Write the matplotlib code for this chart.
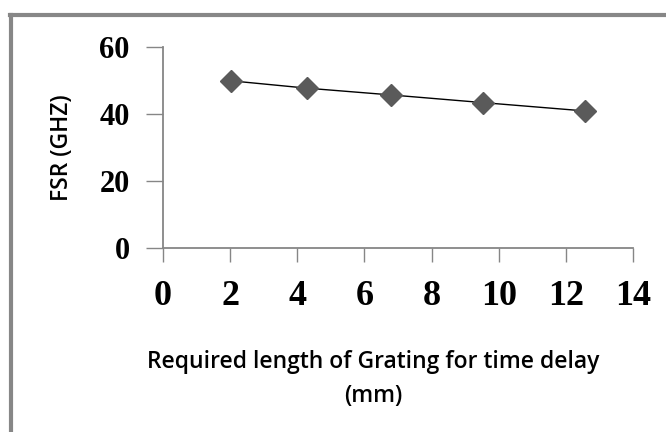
import matplotlib.pyplot as plt
from matplotlib.lines import Line2D

gratingLength = [2.03, 4.3, 6.78, 9.53, 12.58]
fsr = [49.9, 47.7, 45.7, 43.4, 40.9]
xTicks = [0, 2, 4, 6, 8, 10, 12, 14]
yTicks = [0, 20, 40, 60]

axisGray = '#868686'

fig = plt.figure(figsize=(6.66, 4.32), dpi=100)
ax = fig.add_axes([163 / 666, 184 / 432, 470 / 666, 201 / 432])

ax.plot(gratingLength, fsr, color='black', linewidth=1.0, zorder=2)
ax.plot(gratingLength, fsr, linestyle='none', marker='D', markersize=11,
        color='#5a5a5a', zorder=3)

ax.set_xlim(0, 14)
ax.set_ylim(0, 60)
ax.set_xticks(xTicks)
ax.set_yticks(yTicks)

serifBold = {'family': 'Liberation Serif', 'weight': 'bold'}
ax.set_xticklabels([str(t) for t in xTicks], fontdict=serifBold, fontsize=26)
ax.set_yticklabels([str(t) for t in yTicks], fontdict=serifBold, fontsize=22)

for side in ['top', 'right']:
    ax.spines[side].set_visible(False)
for side in ['left', 'bottom']:
    ax.spines[side].set_color(axisGray)
    ax.spines[side].set_linewidth(1.3)
ax.tick_params(axis='both', direction='out', color=axisGray, width=1.0)
ax.tick_params(axis='y', length=12, pad=12)
ax.tick_params(axis='x', length=10, pad=13)

fig.text(62 / 666, 1 - 148 / 432, 'FSR (GHZ)', rotation=90, ha='center', va='center',
         family='Open Sans', weight='semibold', fontsize=16.5)
fig.text(373 / 666, 1 - 362 / 432, 'Required length of Grating for time delay',
         ha='center', va='center', family='Open Sans', weight='semibold', fontsize=16.5)
fig.text(373 / 666, 1 - 396 / 432, '(mm)',
         ha='center', va='center', family='Open Sans', weight='semibold', fontsize=16.5)

# cropped chart frame: left and top edges only
fig.add_artist(Line2D([11 / 666, 11 / 666], [0, 1 - 14.5 / 432], transform=fig.transFigure,
                      color='#878787', linewidth=3))
fig.add_artist(Line2D([9.5 / 666, 1], [1 - 14.5 / 432, 1 - 14.5 / 432], transform=fig.transFigure,
                      color='#878787', linewidth=3))

fig.savefig('out.png', dpi=100)
